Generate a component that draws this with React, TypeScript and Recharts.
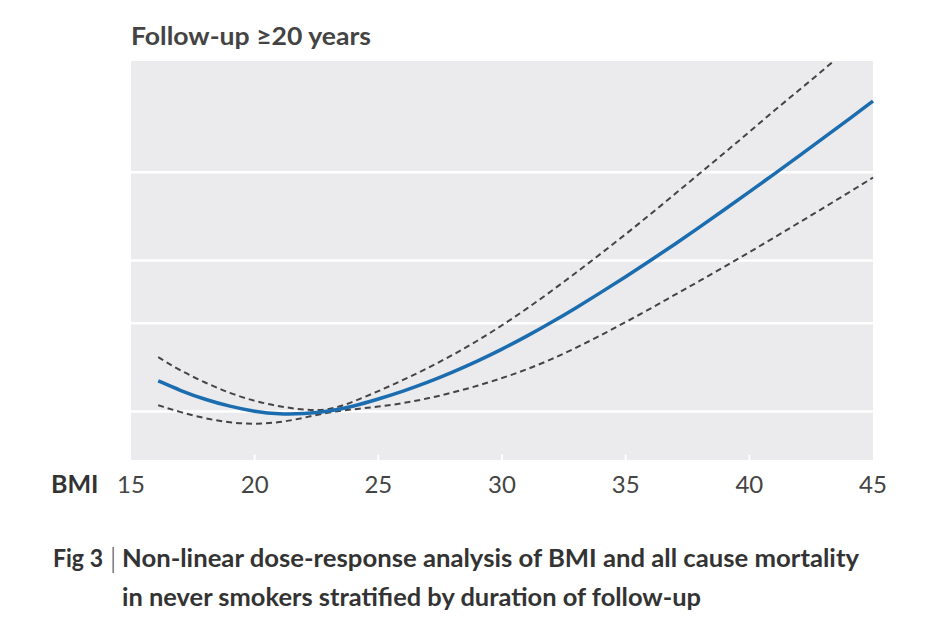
import React from 'react';
import { LineChart, Line, XAxis, YAxis, CartesianGrid, ReferenceLine } from 'recharts';

// BMI values and relative risk
const bmi = [16.1, 17, 18, 19, 20, 21, 22, 23, 24, 25, 26, 27, 28, 29, 30, 31, 32, 33, 34, 35, 36, 37, 38, 39, 40, 41, 42, 43, 44, 45];
const rr = [1.151, 1.1, 1.056, 1.023, 0.999, 0.987, 0.989, 1.0, 1.024, 1.058, 1.097, 1.143, 1.197, 1.259, 1.33, 1.412, 1.505, 1.61, 1.727, 1.856, 2.0, 2.157, 2.334, 2.527, 2.741, 2.974, 3.229, 3.511, 3.82, 4.159];
const upper = [1.283, 1.205, 1.141, 1.087, 1.048, 1.023, 1.006, 1.004, 1.046, 1.097, 1.155, 1.22, 1.295, 1.382, 1.484, 1.602, 1.738, 1.892, 2.064, 2.256, 2.473, 2.716, 2.986, 3.28, 3.61, 3.98, 4.37, 4.8, 5.3, 5.8];
const lower = [1.029, 0.996, 0.968, 0.949, 0.943, 0.95, 0.971, 0.997, 1.01, 1.022, 1.038, 1.061, 1.09, 1.124, 1.165, 1.212, 1.27, 1.339, 1.419, 1.507, 1.603, 1.71, 1.822, 1.944, 2.077, 2.222, 2.378, 2.547, 2.729, 2.927];

const xTicks = [15, 20, 25, 30, 35, 40, 45];
const yTicks = [1, 1.5, 2, 3];
const yMin = 0.8;
const yMax = 5;
const tickTop = 0.82; // short white tick marks along the bottom edge

const data = bmi.map((b, i) => ({ bmi: b, rr: rr[i], upper: upper[i], lower: lower[i] }));

const FONT = 'Lato, "Open Sans", sans-serif';

const BmiTick = (props: any) => {
    const { x, y, payload } = props;
    return (
        <text x={x} y={y + 33} textAnchor="middle" fontFamily={FONT} fontSize={24} fill="#444">
            {payload.value}
        </text>
    );
};

const App = () => {
    return (
        <div style={{ position: 'absolute', left: 0, top: 0, width: 926, height: 636, background: '#fff' }}>
            <LineChart
                width={926}
                height={636}
                data={data}
                margin={{ top: 61, right: 53, bottom: 146, left: 131 }}
            >
                <CartesianGrid vertical={false} horizontal={false} fill="#EBEBED" fillOpacity={1} />
                <XAxis
                    type="number"
                    dataKey="bmi"
                    domain={[15, 45]}
                    ticks={xTicks}
                    height={30}
                    axisLine={false}
                    tickLine={false}
                    tickSize={0}
                    tickMargin={0}
                    interval={0}
                    tick={<BmiTick />}
                />
                <YAxis
                    scale="log"
                    domain={[yMin, yMax]}
                    allowDataOverflow
                    ticks={yTicks}
                    width={0}
                    tick={false}
                    axisLine={false}
                    tickLine={false}
                />
                {yTicks.map(t => (
                    <ReferenceLine key={`h${t}`} y={t} stroke="#ffffff" strokeWidth={2.5} />
                ))}
                {xTicks.slice(1, -1).map(t => (
                    <ReferenceLine
                        key={`v${t}`}
                        segment={[{ x: t, y: yMin }, { x: t, y: tickTop }]}
                        stroke="#ffffff"
                        strokeWidth={2}
                    />
                ))}
                <Line type="basis" dataKey="upper" stroke="#444" strokeWidth={2} strokeDasharray="6 4" dot={false} isAnimationActive={false} />
                <Line type="basis" dataKey="lower" stroke="#444" strokeWidth={2} strokeDasharray="6 4" dot={false} isAnimationActive={false} />
                <Line type="basis" dataKey="rr" stroke="#1B6DAF" strokeWidth={3.5} dot={false} isAnimationActive={false} />
            </LineChart>
            <svg width={926} height={636} style={{ position: 'absolute', left: 0, top: 0, pointerEvents: 'none' }}>
                <text x={131} y={45} fontFamily={FONT} fontWeight={700} fontSize={25} fill="#444" textLength={240} lengthAdjust="spacingAndGlyphs">
                    Follow-up ≥20 years
                </text>
                <text x={51} y={493} fontFamily={FONT} fontWeight={700} fontSize={25} fill="#333">
                    BMI
                </text>
                <text x={53} y={567} fontFamily={FONT} fontWeight={700} fontSize={25} fill="#333" textLength={50} lengthAdjust="spacingAndGlyphs">
                    Fig 3
                </text>
                <text x={113} y={568} textAnchor="middle" fontFamily={FONT} fontWeight={300} fontSize={28} fill="#444">
                    |
                </text>
                <text x={122} y={567} fontFamily={FONT} fontWeight={700} fontSize={25} fill="#333" textLength={737} lengthAdjust="spacingAndGlyphs">
                    Non-linear dose-response analysis of BMI and all cause mortality
                </text>
                <text x={122} y={606} fontFamily={FONT} fontWeight={700} fontSize={25} fill="#333" textLength={579} lengthAdjust="spacingAndGlyphs">
                    in never smokers stratified by duration of follow-up
                </text>
            </svg>
        </div>
    );
};

export default App;
